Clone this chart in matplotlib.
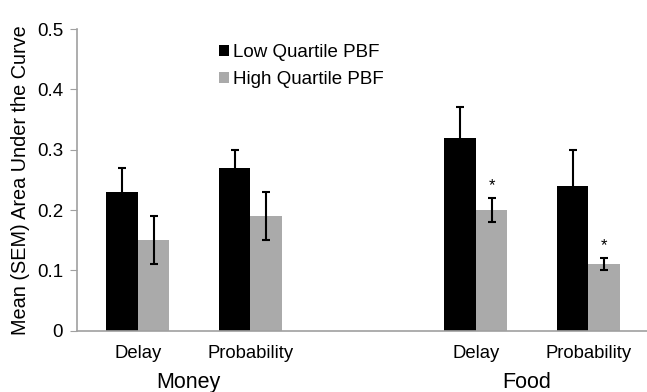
import numpy as np
import matplotlib
matplotlib.use("Agg")
import matplotlib.pyplot as plt

# Data
categories = ["Delay", "Probability", "Delay", "Probability"]
groups = ["Money", "Food"]
low_mean = [0.23, 0.27, 0.32, 0.24]
low_sem = [0.04, 0.03, 0.05, 0.06]
high_mean = [0.15, 0.19, 0.20, 0.11]
high_sem = [0.04, 0.04, 0.02, 0.01]
significant = [False, False, True, True]

plt.rcParams['font.family'] = ['Liberation Sans', 'DejaVu Sans']

fig = plt.figure(figsize=(6.47, 3.92), dpi=100)
ax = fig.add_axes([0.119, 0.156, 0.881, 0.770])

# empty slot between the Money and Food groups
x = np.array([0, 1, 3, 4])
w = 0.28

ax.bar(x - w / 2, low_mean, w, color='black', label='Low Quartile PBF',
       yerr=low_sem, error_kw=dict(ecolor='black', elinewidth=1.5, capsize=3, capthick=1.5))
ax.bar(x + w / 2, high_mean, w, color='#aaaaaa', label='High Quartile PBF',
       yerr=high_sem, error_kw=dict(ecolor='black', elinewidth=1.5, capsize=3, capthick=1.5))

# significance stars
for xi, m, s, sig in zip(x, high_mean, high_sem, significant):
    if sig:
        ax.text(xi + w / 2, m + s + 0.008, '*', ha='center', va='bottom', fontsize=12)

ax.set_ylim(0, 0.5)
ax.set_xlim(-0.54, 4.52)
ax.set_yticks([0, 0.1, 0.2, 0.3, 0.4, 0.5])
ax.set_yticklabels(['0', '0.1', '0.2', '0.3', '0.4', '0.5'], fontsize=13.5)
ax.set_xticks(x)
ax.set_xticklabels(categories, fontsize=13.3)
ax.tick_params(axis='x', length=0, pad=10)
ax.tick_params(axis='y', length=5, color='#a0a0a0', pad=5)
ax.set_ylabel('Mean (SEM) Area Under the Curve', fontsize=14.3)
ax.yaxis.set_label_coords(-0.082, 0.5)

for side in ['top', 'right']:
    ax.spines[side].set_visible(False)
for side in ['left', 'bottom']:
    ax.spines[side].set_color('#a0a0a0')
    ax.spines[side].set_linewidth(1.2)

# group labels below the categories
for gx, g in zip([0.45, 3.45], groups):
    ax.text(gx, -0.17, g, ha='center', va='center', fontsize=15.5,
            transform=ax.get_xaxis_transform())

ax.legend(loc='upper left', bbox_to_anchor=(0.22, 1.007), frameon=False, fontsize=13.5,
          handlelength=0.53, handleheight=0.53, handletextpad=0.22, labelspacing=0.55)

fig.savefig('out.png', dpi=100)
